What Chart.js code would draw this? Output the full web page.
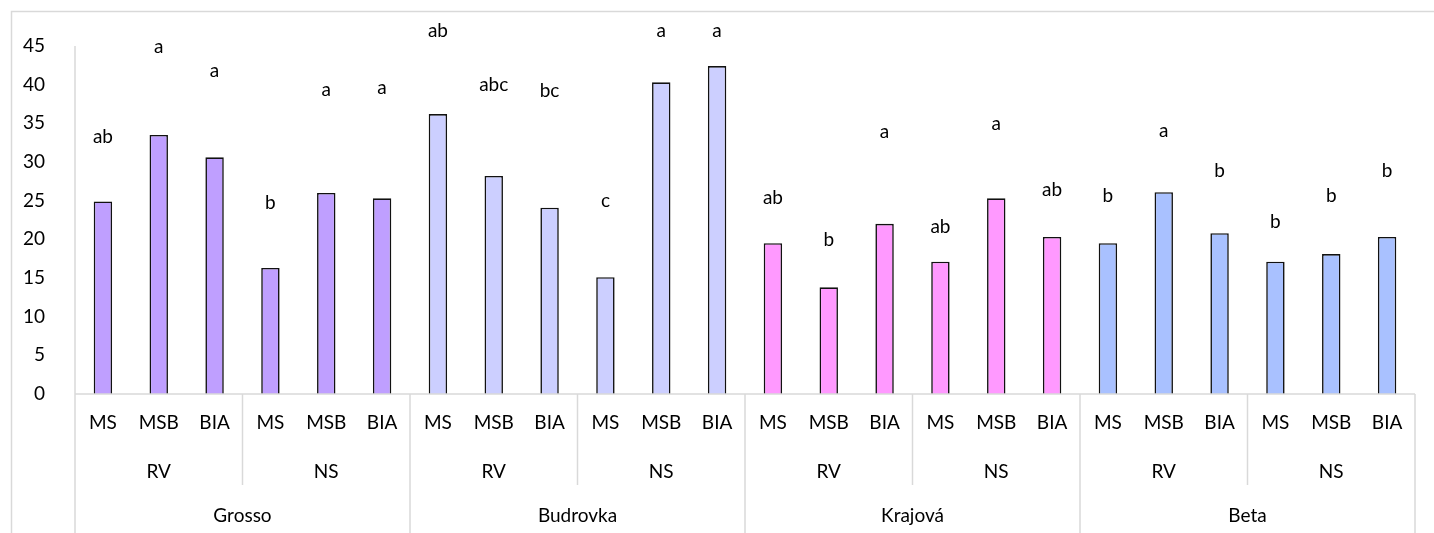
<!DOCTYPE html>
<html>
<head>
<meta charset="utf-8">
<script src="https://cdn.jsdelivr.net/npm/chart.js@4"></script>
<style>
  html, body { margin: 0; padding: 0; background: #fff; }
  #wrap { width: 1434px; height: 533px; position: relative; }
</style>
</head>
<body>
<div id="wrap"><canvas id="chart" width="1434" height="533"></canvas></div>
<script>
// innermost / middle / outer category levels
const treatments = ['MS', 'MSB', 'BIA'];
const seasons = ['RV', 'NS'];
const varieties = ['Grosso', 'Budrovka', 'Krajová', 'Beta'];
const varietyColors = ['#BF9FFF', '#CCCFFF', '#FF99FF', '#A9C1FF'];

// bar values, 6 per variety (RV: MS MSB BIA, NS: MS MSB BIA)
const grosso   = [24.9, 33.5, 30.6, 16.3, 26.0, 25.3];
const budrovka = [36.2, 28.2, 24.1, 15.1, 40.3, 42.4];
const krajova  = [19.5, 13.8, 22.0, 17.1, 25.3, 20.3];
const beta     = [19.5, 26.1, 20.8, 17.1, 18.1, 20.3];

// significance letters and the value height they sit at
const letters = ['ab', 'a', 'a', 'b', 'a', 'a',
                 'ab', 'abc', 'bc', 'c', 'a', 'a',
                 'ab', 'b', 'a', 'ab', 'a', 'ab',
                 'b', 'a', 'b', 'b', 'b', 'b'];
const letterAt = [33.2, 44.9, 41.8, 24.7, 39.3, 39.6,
                  46.9, 40.0, 39.2, 25.0, 46.9, 46.9,
                  25.3, 19.9, 33.9, 21.6, 34.9, 26.4,
                  25.6, 34.0, 28.8, 22.2, 25.6, 28.9];

const yTicks = [0, 5, 10, 15, 20, 25, 30, 35, 40, 45];

const values = [...grosso, ...budrovka, ...krajova, ...beta];
const labels = [];
const colors = [];
varieties.forEach((v, vi) => {
    seasons.forEach(s => {
        treatments.forEach(t => {
            labels.push(t);
            colors.push(varietyColors[vi]);
        });
    });
});

const FONT = 'Lato, "Open Sans", sans-serif';
const SIZE = 19;
const GRID = '#d9d9d9';

const multiLevelAxis = {
    id: 'multiLevelAxis',
    afterDraw(chart) {
        const ctx = chart.ctx;
        const x = chart.scales.x;
        const y = chart.scales.y;
        const area = chart.chartArea;
        const n = labels.length;
        const step = (x.right - x.left) / n;
        const edge = i => x.left + i * step;
        const base = y.getPixelForValue(0);

        ctx.save();
        // outer frame
        ctx.strokeStyle = GRID;
        ctx.lineWidth = 1.5;
        ctx.strokeRect(11.5, 11.5, 1440, 540);

        // axes
        ctx.beginPath();
        ctx.moveTo(x.left, area.top);
        ctx.lineTo(x.left, 533);
        ctx.moveTo(x.left, base);
        ctx.lineTo(x.right, base);
        for (let i = 3; i <= n; i += 3) {
            ctx.moveTo(edge(i), base);
            ctx.lineTo(edge(i), i % 6 === 0 ? 533 : 485);
        }
        ctx.stroke();

        // category text
        ctx.fillStyle = '#000';
        ctx.font = SIZE + 'px ' + FONT;
        ctx.textAlign = 'center';
        ctx.textBaseline = 'middle';
        labels.forEach((l, i) => ctx.fillText(l, x.getPixelForValue(i), 423));
        for (let g = 0; g < n / 3; g++) {
            ctx.fillText(seasons[g % 2], (edge(g * 3) + edge(g * 3 + 3)) / 2, 472);
        }
        varieties.forEach((v, vi) => {
            ctx.fillText(v, (edge(vi * 6) + edge(vi * 6 + 6)) / 2, 516);
        });

        // letters above bars
        letters.forEach((t, i) => {
            ctx.fillText(t, x.getPixelForValue(i), y.getPixelForValue(letterAt[i]));
        });
        ctx.restore();
    }
};

const ctx = document.getElementById('chart').getContext('2d');
new Chart(ctx, {
    type: 'bar',
    data: {
        labels: labels,
        datasets: [{
            data: values,
            backgroundColor: colors,
            borderColor: '#111',
            borderWidth: 1.6,
            categoryPercentage: 1,
            barPercentage: 0.33
        }]
    },
    options: {
        responsive: false,
        animation: false,
        layout: { padding: { left: 0, right: 19, top: 46, bottom: 0 } },
        plugins: { legend: { display: false }, tooltip: { enabled: false } },
        scales: {
            x: {
                grid: { display: false },
                border: { display: false },
                ticks: { display: false },
                afterFit(scale) { scale.height = 139; }
            },
            y: {
                min: 0,
                max: 45,
                afterBuildTicks(scale) { scale.ticks = yTicks.map(v => ({ value: v })); },
                grid: { display: false },
                border: { display: false },
                ticks: {
                    color: '#000',
                    padding: 22,
                    font: { family: FONT, size: SIZE }
                },
                afterFit(scale) { scale.width = 75; }
            }
        }
    },
    plugins: [multiLevelAxis]
});
</script>
</body>
</html>
